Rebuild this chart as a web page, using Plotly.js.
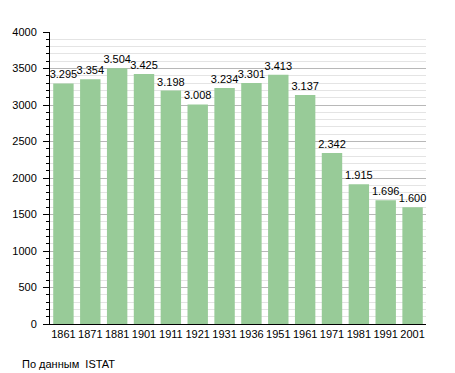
<!DOCTYPE html>
<html><head><meta charset="utf-8">
<script src="https://cdn.plot.ly/plotly-3.0.1.min.js"></script>
<style>html,body{margin:0;padding:0;background:#fff}</style>
</head><body><div id="chart" style="width:455px;height:373px"></div>
<script>
const years = ["1861","1871","1881","1901","1911","1921","1931","1936","1951","1961","1971","1981","1991","2001"];
const population = [3295,3354,3504,3425,3198,3008,3234,3301,3413,3137,2342,1915,1696,1600];
const yTicks = [0,500,1000,1500,2000,2500,3000,3500,4000];
const sourceNote = "По данным  ISTAT";

function fmt(v){ const s = String(v); return s.length > 3 ? s.slice(0, s.length-3) + "." + s.slice(-3) : s; }

const trace = {
  type: "bar", x: years, y: population,
  text: population.map(fmt), textposition: "outside", cliponaxis: false, constraintext: "none",
  textfont: {family: "Liberation Sans, Arial, sans-serif", size: 11, color: "#000"},
  marker: {color: "#98cb98"}, hoverinfo: "none"
};
const layout = {
  width: 455, height: 373,
  margin: {l: 50, r: 29, t: 32, b: 49},
  paper_bgcolor: "#fff", plot_bgcolor: "#fff",
  bargap: 0.24,
  uniformtext: {mode: false},
  font: {family: "Liberation Sans, Arial, sans-serif", size: 11, color: "#000"},
  showlegend: false,
  xaxis: {type: "category", showline: true, linecolor: "#000", linewidth: 1, ticks: "", showgrid: false,
          tickfont: {size: 11}, fixedrange: true},
  yaxis: {range: [0, 4000], tickvals: yTicks, showline: true, linecolor: "#000", linewidth: 1,
          ticks: "outside", ticklen: 6, tickcolor: "#000", gridcolor: "#b8b8b8", gridwidth: 1,
          ticklabelstandoff: 4,
          zeroline: false, tickfont: {size: 11},
          minor: {dtick: 100, ticks: "outside", ticklen: 3, tickcolor: "#000", showgrid: true, gridcolor: "#e4e4e4", gridwidth: 1}},
  annotations: [{text: sourceNote, xref: "paper", yref: "paper", x: -0.08, y: -0.11, xanchor: "left", yanchor: "top",
                 showarrow: false, font: {size: 11}}]
};
Plotly.newPlot("chart", [trace], layout, {staticPlot: true, displayModeBar: false});
</script></body></html>
